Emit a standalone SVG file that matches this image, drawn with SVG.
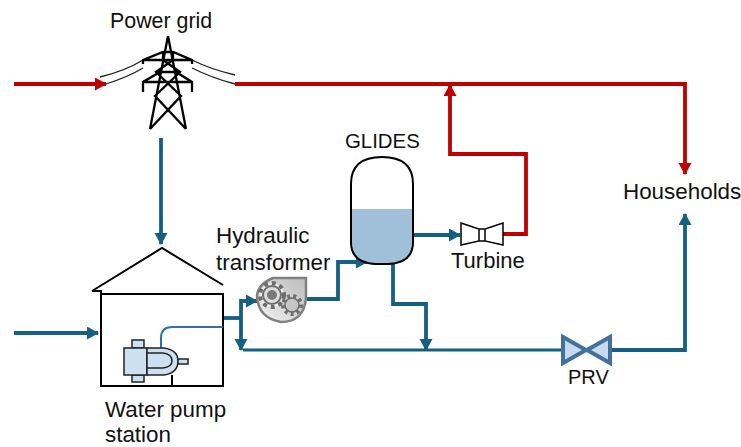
<svg xmlns="http://www.w3.org/2000/svg" width="741" height="447" viewBox="0 0 741 447">
<defs>
<marker id="ab" markerUnits="userSpaceOnUse" markerWidth="14" markerHeight="14" refX="11" refY="6.5" orient="auto"><path d="M0 0L12 6.5L0 13Z" fill="#156082"/></marker>
<marker id="ar" markerUnits="userSpaceOnUse" markerWidth="14" markerHeight="14" refX="11" refY="6.5" orient="auto"><path d="M0 0L12 6.5L0 13Z" fill="#c00000"/></marker>
<linearGradient id="gear" x1="1" y1="0" x2="0" y2="1"><stop offset="0" stop-color="#bdbdbd"/><stop offset="0.55" stop-color="#d8d8d8"/><stop offset="1" stop-color="#f4f4f4"/></linearGradient>
</defs>
<style>
text{font-family:"Liberation Sans",Arial,sans-serif;font-size:22.4px;fill:#111}
.b{fill:none;stroke:#156082;stroke-width:3.8}
.t{fill:none;stroke:#156082;stroke-width:3}
.r{fill:none;stroke:#c00000;stroke-width:3.8}
.k{fill:none;stroke:#000;stroke-width:2}
.p{fill:#cce0f2;stroke:#222;stroke-width:1.5}
</style>
<rect width="741" height="447" fill="#fff"/>
<g id="connectors">
<path class="r" d="M14 84H106" marker-end="url(#ar)"/>
<path class="r" d="M235 84H685V174" marker-end="url(#ar)"/>
<path class="r" d="M503 234H526V154H450V85" marker-end="url(#ar)"/>
<path class="b" d="M161 138V244" marker-end="url(#ab)"/>
<path class="b" d="M14 333H98" marker-end="url(#ab)"/>
<path class="b" d="M223 318H241"/>
<path class="b" d="M241 318V301H257" marker-end="url(#ab)"/>
<path class="b" d="M241 318V350" marker-end="url(#ab)"/>
<path class="t" d="M243 350H563"/>
<path class="b" d="M307 299H338V262H367" marker-end="url(#ab)"/>
<path class="b" d="M393 263V304H426V350" marker-end="url(#ab)"/>
<path class="b" d="M414 235H460" marker-end="url(#ab)"/>
<path class="b" d="M612 350H685V214" marker-end="url(#ab)"/>
</g>
<g id="power-grid">
<path d="M100 77Q125 71 143 60M106 84Q128 77 143 68M235 75Q210 69 192 60M235 84Q212 78 192 68" fill="none" stroke="#222" stroke-width="1.3"/>
<path d="M168 36L150 129M168 36L186 129M143 60H192M143 64V60L163 52H173L192 60V64M143 92V82L160 72H176L192 82V92M143 82H192M163 52V60M173 52V60M163 60L180 72L155 96L186 129M173 60L156 72L181 96L150 129M160 72H176" fill="none" stroke="#000" stroke-width="2.3"/>
<text x="110" y="28" style="font-size:21.4px">Power grid</text>
</g>
<g id="water-pump-station">
<path d="M92 291L162 248L223 285" class="k"/>
<path d="M92 291H101V386H223V294H101" class="k"/>
<path d="M161 348V338Q161 327 172 327H223" fill="none" stroke="#2f6eb0" stroke-width="2"/>
<rect x="132" y="340" width="12" height="8" class="p"/>
<rect x="132" y="375" width="12" height="7" class="p"/>
<rect x="124" y="348" width="23" height="27" class="p"/>
<path d="M147 348H164Q178 350 178 361Q178 373 164 375H147Z" class="p"/>
<path d="M147 353H163Q172 354 172 361Q172 367 163 368H147" fill="none" stroke="#222" stroke-width="1.5"/>
<rect x="178" y="359" width="10" height="5" class="p"/>
<path d="M172 375V386" class="k"/>
<text x="105" y="417">Water pump</text>
<text x="105" y="442">station</text>
</g>
<g id="hydraulic-transformer">
<path d="M273 278H306V298Q304 322 281 322Q258 318 257 296Q258 284 273 278Z" fill="url(#gear)" stroke="#808080" stroke-width="2.5"/>
<circle cx="272" cy="295" r="12" fill="#eee" stroke="#6e6e6e" stroke-width="4" stroke-dasharray="4 4"/>
<circle cx="272" cy="295" r="9" fill="#ddd" stroke="#6e6e6e" stroke-width="2"/>
<circle cx="272" cy="295" r="5" fill="#7a7a7a"/>
<circle cx="292" cy="305" r="9" fill="#ccc" stroke="#6e6e6e" stroke-width="4" stroke-dasharray="3 3.2"/>
<circle cx="292" cy="305" r="7" fill="#c6c6c6" stroke="#6e6e6e" stroke-width="1.5"/>
<text x="216" y="243">Hydraulic</text>
<text x="216" y="270">transformer</text>
</g>
<g id="glides">
<path d="M352 209H412V242Q412 263 388 263H376Q352 263 352 242Z" fill="#a0bfd9"/>
<path d="M351 242V184Q351 157 382 157Q413 157 413 184V242Q413 263 388 264H376Q351 263 351 242Z" fill="none" stroke="#000" stroke-width="2"/>
<text x="345" y="148" style="font-size:20.4px">GLIDES</text>
</g>
<g id="turbine">
<path d="M461 223L479 229V241L461 245ZM503 223L485 229V241L503 245ZM479 229H485M479 241H485" fill="#fff" stroke="#000" stroke-width="1.5"/>
<text x="451" y="268" style="font-size:22px">Turbine</text>
</g>
<g id="households"><text x="623" y="199">Households</text></g>
<g id="prv">
<path d="M563 337L586 350L563 363ZM610 337L587 350L610 363Z" fill="#c7d9ee" stroke="#41719c" stroke-width="4"/>
<text x="568" y="384" style="font-size:20px">PRV</text>
</g>
</svg>
